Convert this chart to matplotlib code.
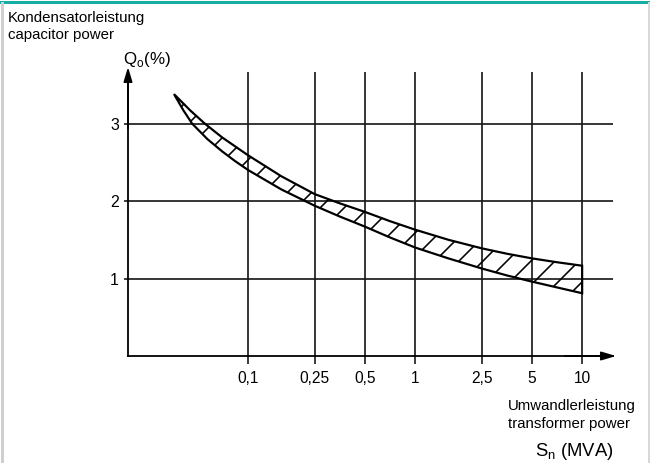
import numpy as np
import matplotlib
matplotlib.use("Agg")
import matplotlib.pyplot as plt
from matplotlib.lines import Line2D

plt.rcParams['font.family'] = ['Liberation Sans', 'DejaVu Sans']
plt.rcParams['mathtext.fontset'] = 'custom'
plt.rcParams['mathtext.rm'] = 'Liberation Sans'
plt.rcParams['hatch.linewidth'] = 1.6

# transformer power (MVA) ticks
sn_ticks = [0.1, 0.25, 0.5, 1, 2.5, 5, 10]
sn_labels = ['0,1', '0,25', '0,5', '1', '2,5', '5', '10']
q_ticks = [1, 2, 3]

# upper / lower edge of the capacitor power band (%)
upper_x = [0.036, 0.045, 0.055, 0.07, 0.1, 0.158, 0.25, 0.354, 0.5, 0.707, 1, 1.58, 2.5, 3.54, 5, 7.07, 10]
upper_y = [3.38, 3.17, 3.0, 2.82, 2.59, 2.32, 2.09, 1.97, 1.86, 1.74, 1.63, 1.50, 1.39, 1.32, 1.26, 1.21, 1.165]
lower_x = [0.036, 0.041, 0.0462, 0.057, 0.07, 0.083, 0.1, 0.158, 0.25, 0.354, 0.5, 0.707, 1, 1.58, 2.5, 3.54, 5, 7.07, 10]
lower_y = [3.38, 3.17, 3.0, 2.80, 2.64, 2.52, 2.40, 2.15, 1.94, 1.80, 1.67, 1.53, 1.40, 1.26, 1.13, 1.04, 0.96, 0.885, 0.81]

W, H = 650, 463
fig = plt.figure(figsize=(W / 72, H / 72), dpi=72)
ax = fig.add_axes([128 / W, (H - 356) / H, (613 - 128) / W, (356 - 72) / H])
ax.set_xscale('log')
ax.set_xlim(0.0191, 15.3)
ax.set_ylim(0, 3.665)

# band with hatching
bx = np.concatenate([upper_x, lower_x[::-1]])
by = np.concatenate([upper_y, lower_y[::-1]])
ax.fill(bx, by, facecolor='none', edgecolor='black', hatch='/', lw=2.2, zorder=3)

ax.set_xticks(sn_ticks)
ax.set_xticklabels(sn_labels)
ax.xaxis.set_minor_locator(matplotlib.ticker.NullLocator())
ax.set_yticks(q_ticks)
ax.set_yticklabels([str(v) for v in q_ticks])
ax.tick_params(axis='x', length=8, width=1.6, pad=7, labelsize=15.5, color='#111')
ax.tick_params(axis='y', length=4, width=1.6, pad=5, labelsize=16, color='#111')
ax.grid(True, color='#1a1a1a', lw=1.7)
ax.set_axisbelow(True)

for s in ['top', 'right']:
    ax.spines[s].set_visible(False)
for s in ['left', 'bottom']:
    ax.spines[s].set_linewidth(1.8)
    ax.spines[s].set_zorder(4)

arrow = dict(arrowstyle='-|>,head_length=0.6,head_width=0.18', mutation_scale=20,
             color='black', lw=1.8, shrinkA=0, shrinkB=0)
ax.annotate('', xy=(0, 1 + 5 / 284), xytext=(0, 0.8), xycoords='axes fraction', arrowprops=arrow)
ax.annotate('', xy=(1 + 3 / 485, 0), xytext=(0.9, 0), xycoords='axes fraction', arrowprops=arrow)

# labels
def ftext(x, y, s, **kw):
    fig.text(x / W, 1 - y / H, s, va='baseline', **kw)

ftext(8, 22, 'Kondensatorleistung', fontsize=15)
ftext(8, 39, 'capacitor power', fontsize=15)
ftext(123, 64, r'Q$_{\mathregular{o}}$(%)', fontsize=17)
ftext(508, 410, 'Umwandlerleistung', fontsize=15)
ftext(508, 428, 'transformer power', fontsize=15)
ftext(535, 456, r'S$_{\mathregular{n}}$ (MVA)', fontsize=18.5)

# frame
fig.add_artist(Line2D([0, 1], [1 - 1.5 / H] * 2, transform=fig.transFigure, color='#17ada7', lw=3))
fig.add_artist(Line2D([1.5 / W] * 2, [0, 1 - 3 / H], transform=fig.transFigure, color='#cfcfcf', lw=3))
fig.add_artist(Line2D([1 - 1 / W] * 2, [0, 1 - 3 / H], transform=fig.transFigure, color='#d8d8d8', lw=2))

fig.savefig('out.png', dpi=72)
